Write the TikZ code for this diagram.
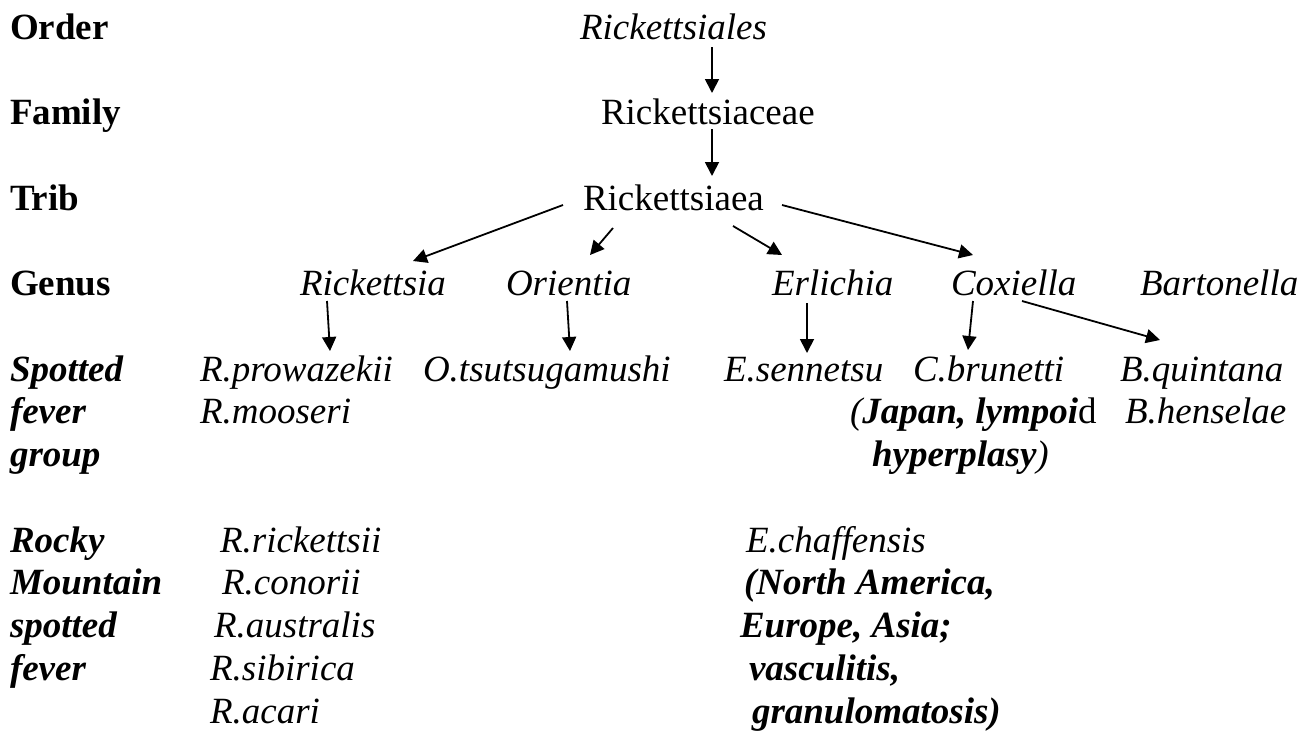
\documentclass[tikz,border=0pt]{standalone}
\usepackage{fontspec}
\setmainfont{Liberation Serif}
\usetikzlibrary{arrows.meta, calc}

\tikzset{
  txt/.style={anchor=base west, inner sep=0pt, outer sep=0pt, font=\fontsize{37}{42.75}\selectfont},
  rank/.style={txt, font=\fontsize{37}{42.75}\selectfont\bfseries},
  grp/.style={txt, font=\fontsize{37}{42.75}\selectfont\bfseries\itshape},
  taxon/.style={txt, font=\fontsize{37}{42.75}\selectfont\itshape},
  pto/.style={-{Triangle[width=14pt,length=14pt]}, line width=1.8pt}
}

\begin{document}
\begin{tikzpicture}[x=1pt, y=-1pt]
  \useasboundingbox (0,0) rectangle (1314,731);

  % rank column
  \foreach \lbl/\nm/\yy in {Order/lord/39, Family/lfam/124.5, Trib/ltrib/210, Genus/lgen/295.5}
    \node[rank] (\nm) at (10,\yy) {\lbl};
  \foreach \lbl [count=\i from 0] in {Spotted, fever, group}
    \node[grp] (sfg\i) at (10, 381+42.75*\i) {\lbl};
  \foreach \lbl [count=\i from 0] in {Rocky, Mountain, spotted, fever}
    \node[grp] (rmsf\i) at (10, 552+42.75*\i) {\lbl};

  % tree
  \node[taxon] (order) at (580,39) {Rickettsiales};
  \node[txt] (family) at (601,124.5) {Rickettsiaceae};
  \node[txt] (tribe) at (583,210) {Rickettsiaea};

  \node[taxon] (rick) at (300,295.5) {Rickettsia};
  \node[taxon] (orie) at (506,295.5) {Orientia};
  \node[taxon] (erli) at (772,295.5) {Erlichia};
  \node[taxon] (coxi) at (951,295.5) {Coxiella};
  \node[taxon] (bart) at (1140,295.5) {Bartonella};

  \node[taxon] (rprow) at (200,381) {R.prowazekii};
  \node[taxon] (otsu) at (423,381) {O.tsutsugamushi};
  \node[taxon] (esen) at (724,381) {E.sennetsu};
  \node[taxon] (cbru) at (913,381) {C.brunetti};
  \node[taxon] (bqui) at (1120,381) {B.quintana};
  \node[taxon] (rmoo) at (200,423.75) {R.mooseri};
  \node[taxon] (japan) at (850,423.75) {(\textbf{Japan, lympoi}\textup{d}};
  \node[taxon] (bhen) at (1125,423.75) {B.henselae};
  \node[taxon] (hyper) at (872,466.5) {\textbf{hyperplasy})};

  % spotted fever species
  \foreach \xx/\lbl [count=\i from 0] in {220/R.rickettsii, 222/R.conorii, 214/R.australis, 210/R.sibirica, 210/R.acari}
    \node[taxon] (rsp\i) at (\xx, 552+42.75*\i) {\lbl};
  \node[taxon] (echa) at (746,552) {E.chaffensis};
  \foreach \xx/\lbl [count=\i from 1] in {744/{(North America,}, 740/{Europe, Asia;}, 749/{vasculitis,}, 752/{granulomatosis)}}
    \node[grp] (enote\i) at (\xx, 552+42.75*\i) {\lbl};

  % arrows
  \draw[pto] ($(order.base west)+(132,8)$) -- ($(family.base west)+(111,-31.5)$);
  \draw[pto] ($(family.base west)+(111,4.5)$) -- ($(tribe.base west)+(129,-34)$);

  \draw[pto] ($(tribe.base west)+(-20,-5)$) -- ($(rick.base west)+(113,-34.5)$);
  \draw[pto] ($(tribe.base west)+(30,18)$) -- ($(orie.base west)+(84,-40.5)$);
  \draw[pto] ($(tribe.base west)+(150,16)$) -- ($(erli.base west)+(10,-40.5)$);
  \draw[pto] ($(tribe.base west)+(199,-5)$) -- ($(coxi.base west)+(22,-40.5)$);

  \draw[pto] ($(rick.base west)+(27,5.5)$) -- ($(rprow.base west)+(130,-30)$);
  \draw[pto] ($(orie.base west)+(61,5.5)$) -- ($(otsu.base west)+(147,-30)$);
  \draw[pto] ($(erli.base west)+(35,7.5)$) -- ($(esen.base west)+(83,-28)$);
  \draw[pto] ($(coxi.base west)+(22,5.5)$) -- ($(cbru.base west)+(55,-31)$);
  \draw[pto] ($(coxi.base west)+(71,5.5)$) -- ($(bqui.base west)+(40,-41)$);
\end{tikzpicture}
\end{document}
